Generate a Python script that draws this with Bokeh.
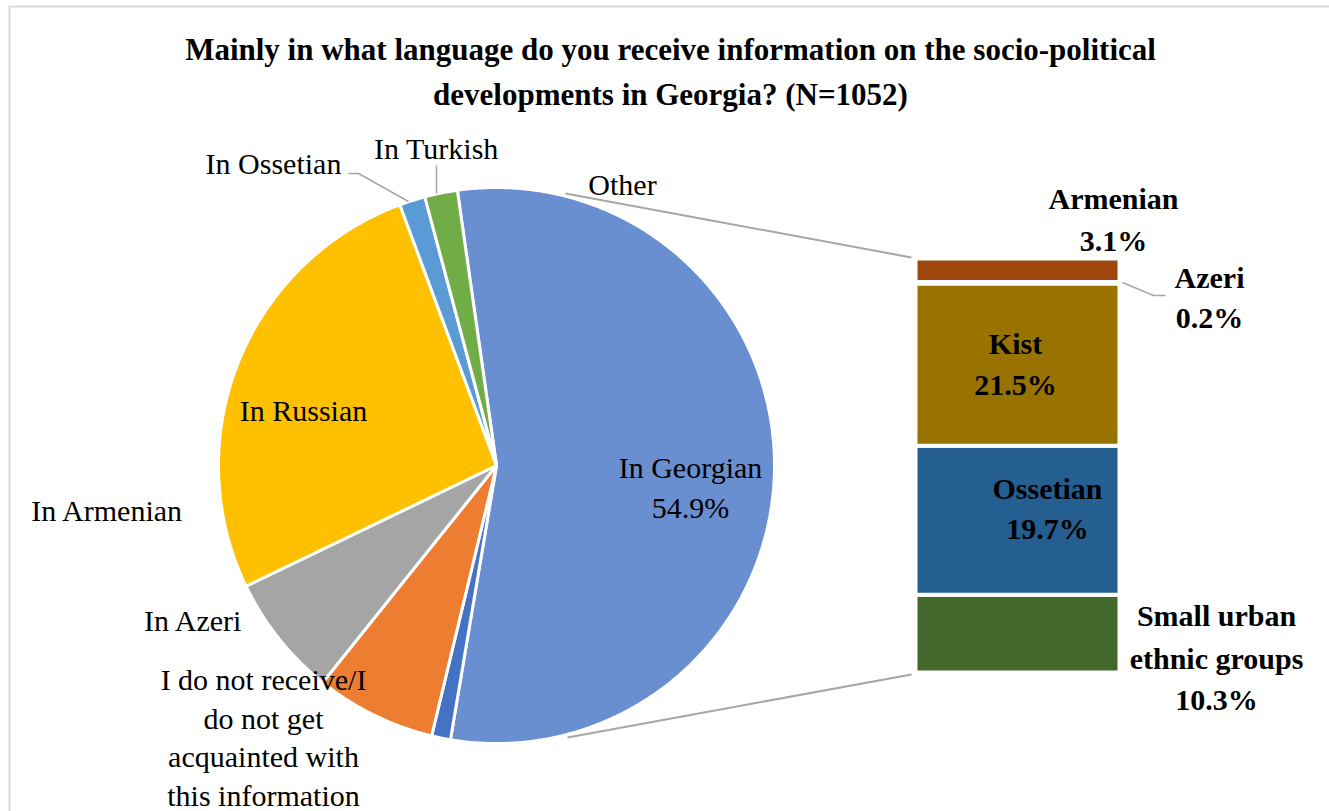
import numpy as np
from bokeh.plotting import figure
from bokeh.models import Range1d
from bokeh.core.properties import value
from bokeh.embed import file_html
from bokeh.resources import INLINE

# ---------------- data ----------------
title_lines = ["Mainly in what language do you receive information on the socio-political",
               "developments in Georgia? (N=1052)"]

pie_names = ["In Georgian", "Other", "I do not receive/I do not get acquainted with this information",
             "In Azeri", "In Armenian", "In Russian", "In Ossetian", "In Turkish"]
pie_values = [54.9, 1.1, 7.0, 7.1, 0.0, 26.5, 1.5, 1.9]
pie_colors = ["#6A8FD0", "#4472C4", "#ED7D31", "#A5A5A5", "#C0504D", "#FFC000", "#5B9BD5", "#70AD47"]

bar_names = ["Small urban ethnic groups", "Ossetian", "Kist", "Azeri", "Armenian"]
bar_values = [10.3, 19.7, 21.5, 0.2, 3.1]
bar_colors = ["#43682B", "#255E91", "#997300", "#C55A11", "#9E480E"]

# ---------------- layout ----------------
W, H = 1329, 811
p = figure(width=W, height=H, x_range=Range1d(0, W), y_range=Range1d(H, 0),
           output_backend="svg", toolbar_location=None, min_border=0,
           x_axis_location=None, y_axis_location=None)
p.grid.visible = False
p.outline_line_color = None
p.background_fill_color = "white"
p.border_fill_color = "white"

# frame (top and left edge of chart area)
p.line([9, 9, 2000], [2000, 6, 6], line_color="#D9D9D9", line_width=2)

SERIF = value("Liberation Serif")

# title
for i, t in enumerate(title_lines):
    p.text([670], [49 + 45 * i], text=[t], text_align="center", text_baseline="middle",
           text_font=SERIF, text_font_size="31px", text_font_style="bold", text_color="black")

# pie geometry
cx, cy, r = 496, 465, 278
start_deg = -8.1

# connector lines (under the pie)
bar_left, bar_right, bar_bottom, bar_top = 915, 1119, 672, 258
p.multi_line([[565, 911], [567, 911]], [[193, 257], [737, 674]], line_color="#A6A6A6", line_width=2)

xs, ys = [], []
acc = start_deg
for v in pie_values:
    a0 = acc
    a1 = acc + v * 3.6
    acc = a1
    th = np.radians(np.linspace(a0, a1, max(int(abs(a1 - a0)) * 2 + 2, 2)))
    xs.append([cx] + list(cx + r * np.sin(th)))
    ys.append([cy] + list(cy - r * np.cos(th)))
keep = [i for i, v in enumerate(pie_values) if v > 0]
p.patches([xs[i] for i in keep], [ys[i] for i in keep],
          fill_color=[pie_colors[i] for i in keep], line_color="white", line_width=3)

# bar (stacked)
scale = (bar_bottom - bar_top) / sum(bar_values)
cum = np.concatenate([[0], np.cumsum(bar_values)])
p.quad(left=[bar_left] * len(bar_values), right=[bar_right] * len(bar_values),
       bottom=list(bar_bottom - cum[:-1] * scale), top=list(bar_bottom - cum[1:] * scale),
       fill_color=bar_colors, line_color="white", line_width=4)

# leader lines
p.multi_line([[348, 358, 408], [436, 436], [1122, 1153, 1165]],
             [[173, 173, 201], [165, 193], [282, 295, 295]],
             line_color="#A6A6A6", line_width=1.5)

# labels
def txt(x, y, s, bold=False, size="30px"):
    p.text([x], [y], text=[s], text_align="center", text_baseline="middle",
           text_font=SERIF, text_font_size=size,
           text_font_style="bold" if bold else "normal", text_color="black")

txt(690, 467, pie_names[0])
txt(690, 507, f"{pie_values[0]:.1f}%")
txt(303, 410, pie_names[5])
txt(107, 510, pie_names[4])
txt(193, 620, pie_names[3])
for i, line in enumerate(["I do not receive/I", "do not get", "acquainted with", "this information"]):
    txt(263, 679 + 38.5 * i, line)
txt(273, 163, pie_names[6])
txt(436, 148, pie_names[7])
txt(622, 184, pie_names[1])

# bar labels
txt(1113, 198, bar_names[4], bold=True)
txt(1113, 240, f"{bar_values[4]:.1f}%", bold=True)
txt(1209, 277, bar_names[3], bold=True)
txt(1209, 317, f"{bar_values[3]:.1f}%", bold=True)
txt(1015, 343, bar_names[2], bold=True)
txt(1015, 384, f"{bar_values[2]:.1f}%", bold=True)
txt(1047, 488, bar_names[1], bold=True)
txt(1047, 528, f"{bar_values[1]:.1f}%", bold=True)
txt(1216, 615, "Small urban", bold=True)
txt(1216, 658, "ethnic groups", bold=True)
txt(1216, 699, f"{bar_values[0]:.1f}%", bold=True)

open("out.html", "w").write(file_html(p, INLINE))
